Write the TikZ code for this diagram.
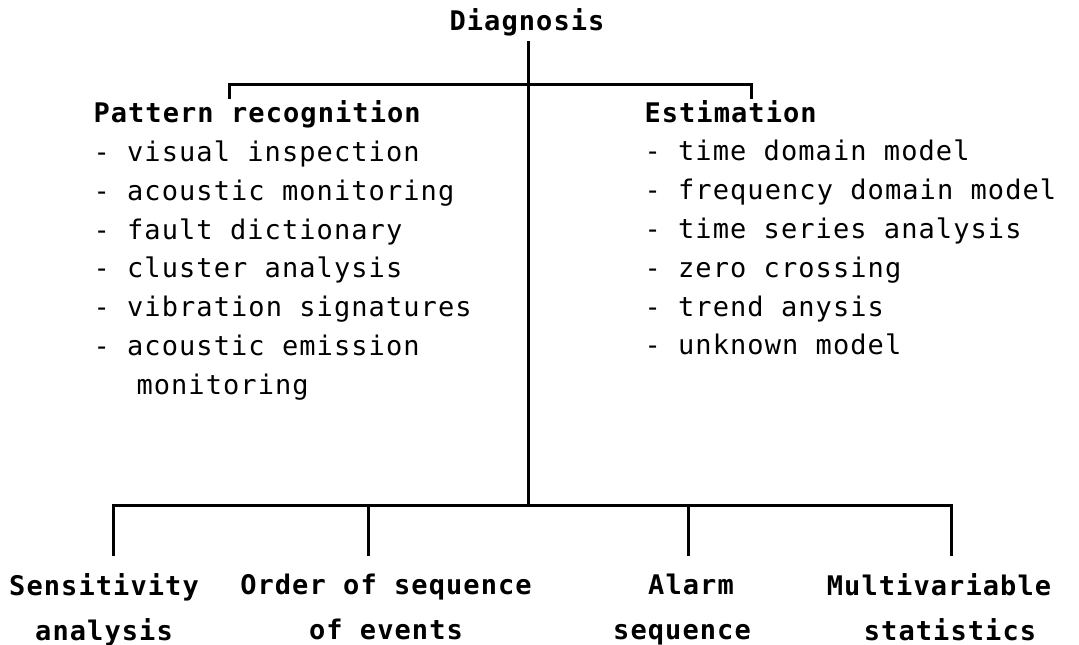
\documentclass[tikz,border=0pt]{standalone}
\usepackage{fontspec}
\usepackage{tikz}
\usetikzlibrary{positioning}
\usetikzlibrary{calc}

\newfontfamily\dotfont[LetterSpace=4]{DejaVu Sans Mono}

\begin{document}
\begin{tikzpicture}[ x = 1pt, y = -1pt
                   , line width = 3pt
                   , every node/.style = { inner sep = 0pt
                                         , font = \dotfont\fontsize{27}{45}\selectfont }
                   ]

    \tikzset{ head/.style  = {font=\dotfont\bfseries\fontsize{27}{45}\selectfont}
            , item/.style  = {anchor=base west}
            , leaf/.style  = {head, align=center, anchor=north}}

    \useasboundingbox (0,0) rectangle (1079,645);
    %%
    %% Nodes
    %%
    \node (diag) [head, anchor=base]       at (527,30)  {Diagnosis};
    \node (patt) [head, item]              at (92,122)  {Pattern recognition};
    \node (esti) [head, item]              at (643,122) {Estimation};

    \foreach \x/\y/\txt [count=\i] in
      { 92/161/- visual inspection
      , 92/200/- acoustic monitoring
      , 92/239/- fault dictionary
      , 92/277/- cluster analysis
      , 92/316/- vibration signatures
      , 92/355/- acoustic emission
      , 135/394/monitoring }
      \node (pat\i) [item] at (\x,\y) {\txt};

    \foreach \txt [count=\i] in
      { - time domain model
      , - frequency domain model
      , - time series analysis
      , - zero crossing
      , - trend anysis
      , - unknown model }
      \node (est\i) [item] at (643,122+38.8*\i) {\txt};

    \node (sens)  [leaf] at (104,572) {Sensitivity\\analysis\hspace{16pt}};
    \node (order) [leaf] at (386,572) {Order of sequence\\of events\hspace{36pt}};
    \node (alarm) [leaf] at (682,572) {\hspace{18pt}Alarm\\sequence};
    \node (multi) [leaf] at (939,572) {Multivariable\\\hspace{22pt}statistics};

    \coordinate (hub)  at (528,505);
    \coordinate (lt)   at (229,99);
    \coordinate (rt)   at (751,99);
    \coordinate (d1)   at (113,556);
    \coordinate (d2)   at (368,556);
    \coordinate (d3)   at (688,556);
    \coordinate (d4)   at (951,556);
    %%
    %% Lines
    %%
    \draw ([yshift=-4pt]diag.south -| hub) -- (hub);
    \draw (lt) -- ++(0,-15) -| (rt);
    \draw (d1) -- (d1 |- hub) -- (d4 |- hub) -- (d4);
    \draw (d2) -- (d2 |- hub);
    \draw (d3) -- (d3 |- hub);
\end{tikzpicture}
\end{document}
